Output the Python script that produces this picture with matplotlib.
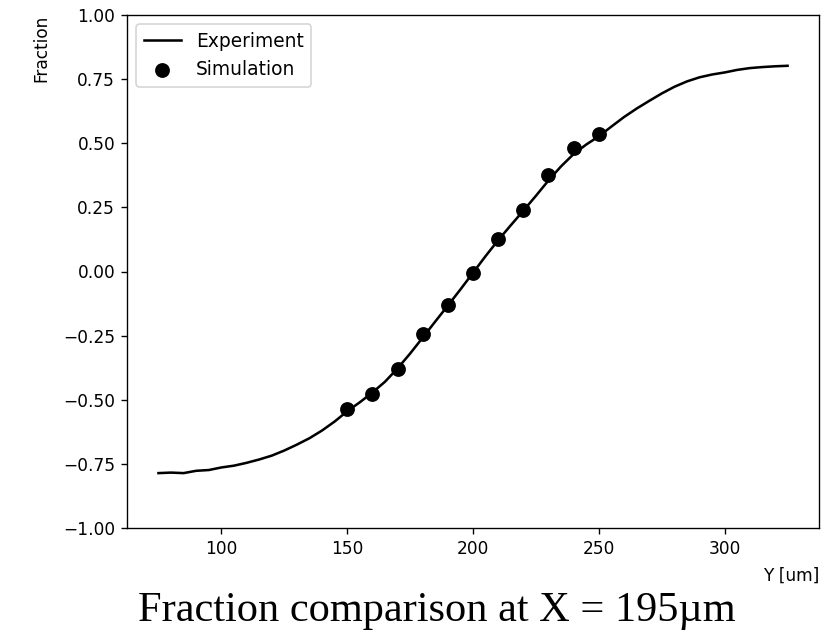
import numpy as np
import matplotlib
matplotlib.use('Agg')
import matplotlib.pyplot as plt

# experiment profile
exp_y = [75, 80, 85, 90, 95, 100, 105, 110, 115, 120, 125, 130, 135, 140, 145,
         150, 155, 160, 165, 170, 175, 180, 185, 190, 195, 200, 205, 210, 215,
         220, 225, 230, 235, 240, 245, 250, 255, 260, 265, 270, 275, 280, 285,
         290, 295, 300, 305, 310, 315, 320, 325]
exp_frac = [-0.786, -0.784, -0.786, -0.777, -0.774, -0.764, -0.757, -0.746,
            -0.733, -0.718, -0.698, -0.675, -0.650, -0.620, -0.585, -0.545,
            -0.510, -0.472, -0.430, -0.378, -0.320, -0.258, -0.195, -0.133,
            -0.070, -0.005, 0.060, 0.122, 0.180, 0.237, 0.295, 0.355, 0.410,
            0.458, 0.495, 0.527, 0.565, 0.602, 0.635, 0.665, 0.694, 0.720,
            0.741, 0.757, 0.768, 0.776, 0.786, 0.793, 0.797, 0.800, 0.802]

# simulation points
sim_y = [150, 160, 170, 180, 190, 200, 210, 220, 230, 240, 250]
sim_frac = [-0.535, -0.478, -0.380, -0.244, -0.131, -0.007, 0.127, 0.240,
            0.376, 0.480, 0.535]

DPI = 122
fig = plt.figure(figsize=(838 / DPI, 632 / DPI), dpi=DPI)
ax = fig.add_axes([127 / 838, 1 - 528 / 632, (819 - 127) / 838, (528 - 15) / 632])

ax.plot(exp_y, exp_frac, color='black', label='Experiment')
ax.scatter(sim_y, sim_frac, color='black', s=60, zorder=3, label='Simulation')

ax.set_ylim(-1, 1)
ax.set_xlabel('Y [um]', loc='right', labelpad=5)
ax.set_ylabel('Fraction', loc='top', labelpad=7.5)
ax.legend(loc='upper left', fontsize=11)

fig.text(436.5 / 838, 1 - 621 / 632, 'Fraction comparison at X = 195\u00b5m',
         family=['Liberation Serif', 'DejaVu Serif'], fontsize=25,
         ha='center', va='baseline')

fig.savefig('out.png', dpi=DPI)
